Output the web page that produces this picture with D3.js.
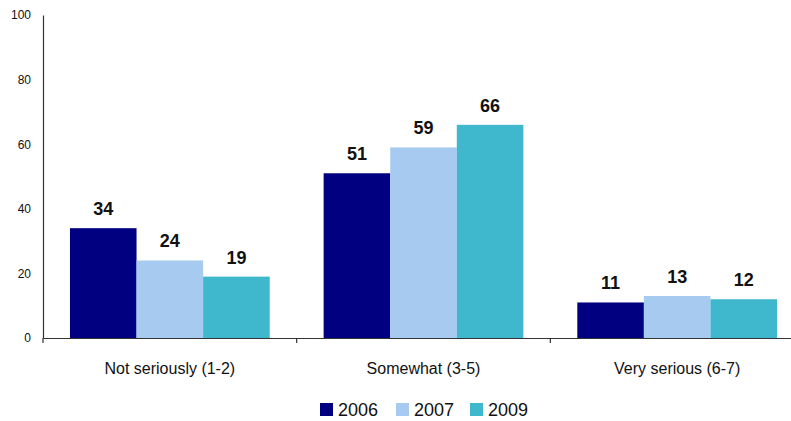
<!DOCTYPE html>
<html><head><meta charset="utf-8">
<script src="https://cdn.jsdelivr.net/npm/d3@7"></script>
<style>body{margin:0;background:#fff;}svg{display:block;font-family:"Liberation Sans",Arial,sans-serif;}</style>
</head><body>
<svg id="c" width="791" height="421"></svg>
<script>
const categories = ["Not seriously (1-2)", "Somewhat (3-5)", "Very serious (6-7)"];
const seriesNames = ["2006", "2007", "2009"];
const values2006 = [34, 51, 11];
const values2007 = [24, 59, 13];
const values2009 = [19, 66, 12];
const colors = ["#000080", "#a6caf0", "#3fb7cd"];
const yTicks = [0, 20, 40, 60, 80, 100];

const seriesValues = [values2006, values2007, values2009];
const svg = d3.select("#c");
const x = d3.scaleBand().domain(categories).range([43, 804]).paddingInner(0).paddingOuter(0);
const x1 = d3.scaleBand().domain(seriesNames).range([0, x.bandwidth()]).paddingInner(0).paddingOuter(0.405);
const y = d3.scaleLinear().domain([0, 100]).range([338, 15]);

// y axis
const ya = svg.append("g").attr("transform", "translate(43,0)")
  .call(d3.axisLeft(y).tickValues(yTicks).tickSize(0).tickPadding(12));
ya.select(".domain").attr("stroke", "#333").attr("stroke-width", 1.2);
ya.selectAll("text").attr("font-size", 12).attr("fill", "#111").attr("font-family", "Liberation Sans, Arial, sans-serif");

// bars
categories.forEach((c, ci) => {
  seriesNames.forEach((s, si) => {
    const v = seriesValues[si][ci];
    svg.append("rect")
      .attr("x", x(c) + x1(s)).attr("y", y(v))
      .attr("width", x1.bandwidth()).attr("height", y(0) - y(v))
      .attr("fill", colors[si]);
    svg.append("text")
      .attr("x", x(c) + x1(s) + x1.bandwidth() / 2).attr("y", y(v) - 13)
      .attr("text-anchor", "middle").attr("font-size", 18).attr("font-weight", "bold")
      .attr("fill", "#111").text(v);
  });
});

// x axis
const xa = svg.append("g").attr("transform", "translate(0,338)")
  .call(d3.axisBottom(x).tickSize(0).tickPadding(0).tickFormat(""));
xa.select(".domain").attr("stroke", "#333").attr("stroke-width", 1.2);
xa.selectAll(".tick").remove();
[...categories.map(c => x(c)), x.range()[1]].forEach(px => {
  xa.append("line").attr("x1", px).attr("x2", px).attr("y1", 0).attr("y2", 5).attr("stroke", "#333").attr("stroke-width", 1.2);
});
categories.forEach(c => {
  svg.append("text").attr("x", x(c) + x.bandwidth() / 2).attr("y", 374)
    .attr("text-anchor", "middle").attr("font-size", 16).attr("fill", "#111").text(c);
});

// legend
const legX = [320, 396, 470];
seriesNames.forEach((s, i) => {
  svg.append("rect").attr("x", legX[i]).attr("y", 403).attr("width", 13).attr("height", 13).attr("fill", colors[i]);
  svg.append("text").attr("x", legX[i] + 18).attr("y", 416).attr("font-size", 18).attr("fill", "#111").text(s);
});
</script>
</body></html>
